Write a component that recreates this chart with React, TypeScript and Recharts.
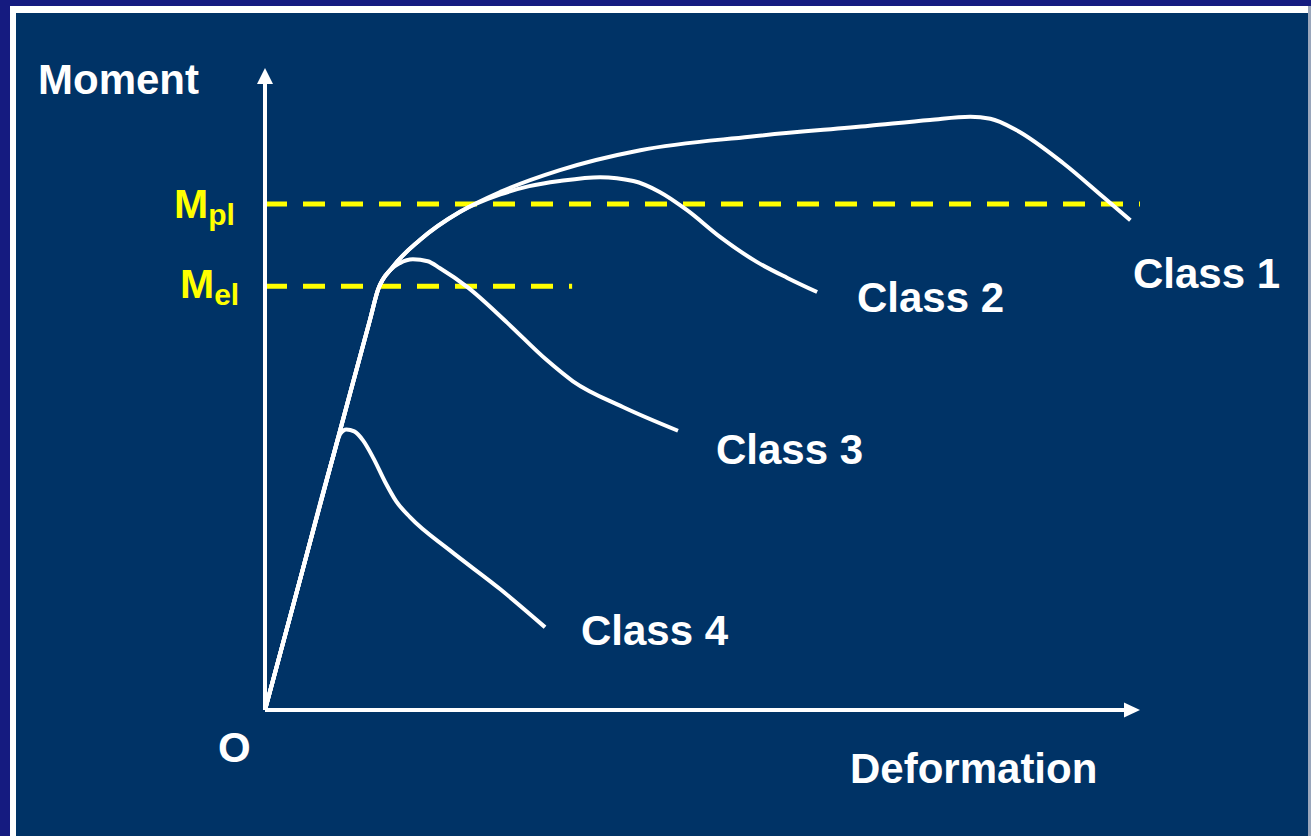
import { LineChart, Line, XAxis, YAxis, ReferenceLine, ReferenceDot } from 'recharts'

// moment–rotation curves for the four cross-section classes (arbitrary units, 0–100)
const class1Points = [
  { x: 0, y: 0 },
  { x: 3.2, y: 16.2 },
  { x: 6.5, y: 33.0 },
  { x: 9.7, y: 49.2 },
  { x: 12.0, y: 60.8 },
  { x: 12.9, y: 65.4 },
  { x: 14.6, y: 69.0 },
  { x: 17.7, y: 73.2 },
  { x: 22.3, y: 77.6 },
  { x: 26.9, y: 80.7 },
  { x: 33.7, y: 84.1 },
  { x: 42.9, y: 87.2 },
  { x: 55.4, y: 89.3 },
  { x: 69.1, y: 91.0 },
  { x: 76.0, y: 91.9 },
  { x: 80.6, y: 92.4 },
  { x: 82.9, y: 92.1 },
  { x: 85.9, y: 90.3 },
  { x: 91.2, y: 85.2 },
  { x: 95.8, y: 79.9 },
  { x: 98.9, y: 76.3 },
]

const class2Points = [
  { x: 0, y: 0 },
  { x: 3.2, y: 16.2 },
  { x: 6.5, y: 33.0 },
  { x: 9.7, y: 49.2 },
  { x: 12.0, y: 60.8 },
  { x: 12.9, y: 65.4 },
  { x: 14.6, y: 69.0 },
  { x: 17.7, y: 73.2 },
  { x: 22.3, y: 77.6 },
  { x: 26.9, y: 80.3 },
  { x: 30.2, y: 81.6 },
  { x: 33.7, y: 82.4 },
  { x: 38.3, y: 83.0 },
  { x: 42.1, y: 82.4 },
  { x: 45.1, y: 80.7 },
  { x: 48.2, y: 77.9 },
  { x: 52.0, y: 73.7 },
  { x: 56.2, y: 69.8 },
  { x: 59.7, y: 67.3 },
  { x: 63.1, y: 65.1 },
]

const class3Points = [
  { x: 0, y: 0 },
  { x: 3.2, y: 16.2 },
  { x: 6.5, y: 33.0 },
  { x: 9.7, y: 49.2 },
  { x: 12.0, y: 60.8 },
  { x: 12.9, y: 65.4 },
  { x: 14.3, y: 68.5 },
  { x: 15.4, y: 69.6 },
  { x: 16.9, y: 70.2 },
  { x: 18.6, y: 69.9 },
  { x: 20.0, y: 68.8 },
  { x: 23.1, y: 65.9 },
  { x: 27.7, y: 60.3 },
  { x: 32.2, y: 54.5 },
  { x: 35.2, y: 51.2 },
  { x: 40.9, y: 47.2 },
  { x: 47.2, y: 43.5 },
]

const class4Points = [
  { x: 0, y: 0 },
  { x: 4.0, y: 20.3 },
  { x: 7.8, y: 39.5 },
  { x: 8.6, y: 43.0 },
  { x: 9.3, y: 43.7 },
  { x: 10.2, y: 43.4 },
  { x: 11.2, y: 42.0 },
  { x: 12.4, y: 39.2 },
  { x: 13.7, y: 35.6 },
  { x: 15.0, y: 32.5 },
  { x: 16.6, y: 30.0 },
  { x: 21.1, y: 24.9 },
  { x: 26.9, y: 18.8 },
  { x: 32.0, y: 12.9 },
]

// elastic and plastic moment levels
const M_PL = 78.8
const M_EL = 66.0
const M_EL_END = 35.1

const AXIS_X_END = 98.2
const AXIS_Y_END = 97.5

const FONT = '"Liberation Sans", Arial, Helvetica, sans-serif'
const WHITE = '#ffffff'
const YELLOW = '#ffff00'

const UpArrow = (p: any) => (
  <polygon points={`${p.cx},${p.cy} ${p.cx - 8},${p.cy + 16} ${p.cx + 8},${p.cy + 16}`} fill={WHITE} />
)

const RightArrow = (p: any) => (
  <polygon points={`${p.cx},${p.cy} ${p.cx - 16},${p.cy - 7.5} ${p.cx - 16},${p.cy + 7.5}`} fill={WHITE} />
)

const txt = { fontFamily: FONT, fontWeight: 700, fontSize: 42, fill: WHITE }
const sym = { fontFamily: FONT, fontWeight: 700, fill: YELLOW }

export default function App() {
  const curve = (data: { x: number; y: number }[], key: string) => (
    <Line
      key={key}
      data={data}
      dataKey="y"
      type="monotone"
      stroke={WHITE}
      strokeWidth={4}
      dot={false}
      activeDot={false}
      isAnimationActive={false}
    />
  )

  return (
    <div style={{ position: 'relative', width: 1311, height: 836, background: '#151b80', overflow: 'hidden' }}>
      <style>{'body{margin:0}'}</style>
      <div style={{ position: 'absolute', left: 10, top: 6, right: 0, bottom: 0, background: '#9aa6bb' }} />
      <div style={{ position: 'absolute', left: 10, top: 6, right: 3, bottom: 0, background: '#ffffff' }} />
      <div style={{ position: 'absolute', left: 16, top: 13, right: 3, bottom: 0, background: '#003366' }} />
      <div style={{ position: 'absolute', left: 0, top: 0 }}>
        <LineChart width={1311} height={836} margin={{ top: 68, right: 171, bottom: 126, left: 265 }}>
          <XAxis type="number" dataKey="x" domain={[0, 100]} hide />
          <YAxis type="number" dataKey="y" domain={[0, 100]} hide />

          <ReferenceLine y={M_PL} stroke={YELLOW} strokeWidth={5} strokeDasharray="22 16" />
          <ReferenceLine
            segment={[{ x: 0, y: M_EL }, { x: M_EL_END, y: M_EL }]}
            stroke={YELLOW}
            strokeWidth={5}
            strokeDasharray="22 16"
          />

          <ReferenceLine segment={[{ x: 0, y: 0 }, { x: 0, y: AXIS_Y_END }]} stroke={WHITE} strokeWidth={4} />
          <ReferenceLine segment={[{ x: 0, y: 0 }, { x: AXIS_X_END, y: 0 }]} stroke={WHITE} strokeWidth={4} />
          <ReferenceDot x={0} y={100} r={0} shape={UpArrow} />
          <ReferenceDot x={100} y={0} r={0} shape={RightArrow} />

          {curve(class1Points, 'c1')}
          {curve(class2Points, 'c2')}
          {curve(class3Points, 'c3')}
          {curve(class4Points, 'c4')}

          <text x={38} y={94} {...txt}>Moment</text>
          <text x={850} y={783} {...txt}>Deformation</text>
          <text x={218} y={762} {...txt}>O</text>
          <text x={1133} y={288} {...txt}>Class 1</text>
          <text x={857} y={312} {...txt}>Class 2</text>
          <text x={716} y={464} {...txt}>Class 3</text>
          <text x={581} y={645} {...txt}>Class 4</text>

          <text x={174} y={218} {...sym} fontSize={41}>
            M<tspan dy={7} fontSize={30}>pl</tspan>
          </text>
          <text x={180} y={298} {...sym} fontSize={41}>
            M<tspan dy={7} fontSize={30}>el</tspan>
          </text>
        </LineChart>
      </div>
    </div>
  )
}
